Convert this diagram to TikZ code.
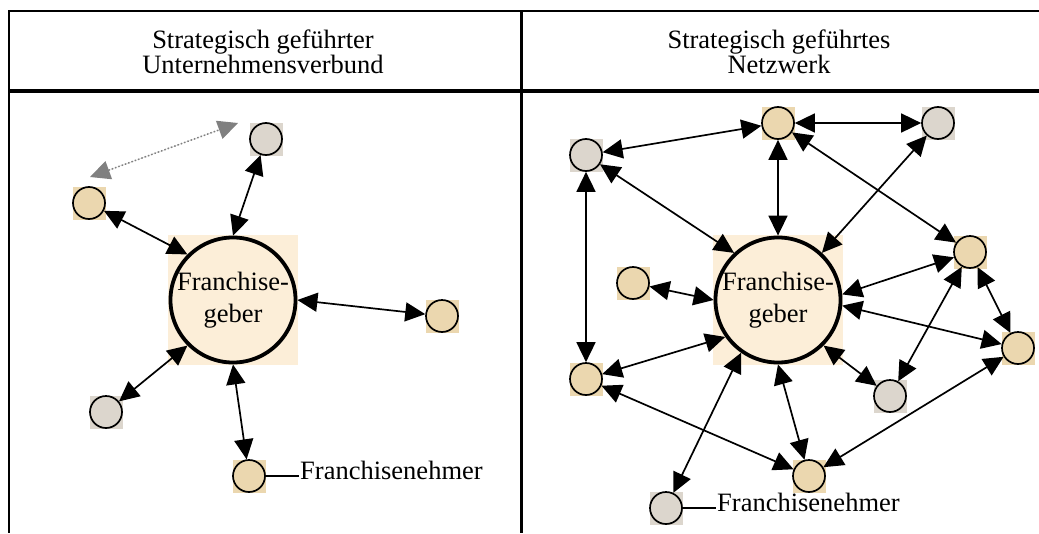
\documentclass[tikz,border=0pt]{standalone}
\usepackage{fontspec}
\setmainfont{Liberation Serif}
\usetikzlibrary{arrows.meta,backgrounds}
\definecolor{tanc}{HTML}{EBD7AF}
\definecolor{greyc}{HTML}{DCD6CD}
\definecolor{bigc}{HTML}{FCEED8}
\definecolor{dotc}{HTML}{808080}
\tikzset{
  tannode/.style={circle, draw, line width=1.7pt, fill=tanc, minimum size=32pt, inner sep=0pt},
  greynode/.style={circle, draw, line width=1.7pt, fill=greyc, minimum size=32pt, inner sep=0pt},
  bignode/.style={circle, draw, line width=3.8pt, fill=bigc, minimum size=124pt, inner sep=0pt, align=center, font=\fontsize{26.5}{32}\selectfont},
  headtip/.tip={Triangle[length=20pt,width=19pt]},
  bi/.style={headtip-headtip, line width=1.7pt},
  dotarrow/.style={headtip-headtip, line width=1.5pt, dotted, draw=dotc, fill=dotc},
  hdr/.style={anchor=base, inner sep=0pt, font=\fontsize{26.5}{25}\selectfont},
  lab/.style={anchor=base west, inner sep=1pt, font=\fontsize{26.5}{30}\selectfont},
}
\begin{document}
\begin{tikzpicture}[x=1pt,y=-1pt]
\useasboundingbox (0,0) rectangle (1039,533);
% frame
\draw[line width=1.5pt] (9,11) -- (1039,11);
\draw[line width=4pt] (9,91) -- (1039,91);
\draw[line width=2pt] (9,10.25) -- (9,533);
\draw[line width=3.5pt] (521.5,11) -- (521.5,533);
% headers
\node[hdr] (h1a) at (263,48) {Strategisch geführter};
\node[hdr] (h1b) at (263,73) {Unternehmensverbund};
\node[hdr] (h2a) at (779,48) {Strategisch geführtes};
\node[hdr] (h2b) at (779,73) {Netzwerk};
% left panel nodes
\node[bignode] (big1) at (233,300) {Franchise-\\geber};
\node[tannode] (A) at (89,203) {};
\node[greynode] (B) at (266,139) {};
\node[tannode] (C) at (442,316) {};
\node[greynode] (D) at (106,412) {};
\node[tannode] (E) at (249,476) {};
\node[lab] (lab1) at (299,479) {Franchisenehmer};
% right panel nodes
\node[bignode] (big2) at (778,300) {Franchise-\\geber};
\node[tannode] (R1) at (778,123) {};
\node[greynode] (R2) at (938,123) {};
\node[greynode] (R3) at (586,155) {};
\node[tannode] (R4) at (970,252) {};
\node[tannode] (R5) at (633,283) {};
\node[tannode] (R6) at (1018,348) {};
\node[tannode] (R7) at (586,379) {};
\node[greynode] (R8) at (890,396) {};
\node[tannode] (R9) at (809,476) {};
\node[greynode] (R10) at (666,508) {};
\node[lab] (lab2) at (716,511) {Franchisenehmer};
% background squares
\begin{scope}[on background layer]
  \foreach \n in {A,C,E,R1,R4,R5,R6,R7,R9} {
    \fill[tanc] ([shift={(-16.5pt,-16.5pt)}]\n.center) rectangle ([shift={(16.5pt,16.5pt)}]\n.center);
  }
  \foreach \n in {B,D,R2,R3,R8,R10} {
    \fill[greyc] ([shift={(-16.5pt,-16.5pt)}]\n.center) rectangle ([shift={(16.5pt,16.5pt)}]\n.center);
  }
  \foreach \n in {big1,big2} {
    \fill[bigc] ([shift={(-65pt,-65pt)}]\n.center) rectangle ([shift={(65pt,65pt)}]\n.center);
  }
\end{scope}
% left connectors
\draw[bi] (big1.135) -- (A);
\draw[bi] (big1.90) -- (B);
\draw[bi] (big1.0) -- (C);
\draw[bi] (big1.225) -- (D);
\draw[bi] (big1.270) -- (E);
\coordinate (d1) at (90,177);
\coordinate (d2) at (238,123);
\draw[dotarrow] (d1) -- (d2);
\draw[line width=1.5pt] (E) -- (E -| lab1.west);
% right connectors
\draw[bi] (R3) -- (R1);
\draw[bi] (R1) -- (R2);
\draw[bi] (big2.90) -- (R1);
\draw[bi] (big2.47) -- (R2);
\draw[bi] (R1) -- (R4);
\draw[bi] (big2.133) -- (R3);
\draw[bi] (R3) -- (R7);
\draw[bi] (big2.180) -- (R5);
\draw[bi] (big2.5) -- (R4);
\draw[bi] (big2.-5) -- (R6);
\draw[bi] (R4) -- (R6);
\draw[bi] (R4) -- (R8);
\draw[bi] (big2.-45) -- (R8);
\draw[bi] (big2.215) -- (R7);
\draw[bi] (big2.235) -- (R10);
\draw[bi] (big2.-90) -- (R9);
\draw[bi] (R7) -- (R9);
\draw[bi] (R9) -- (R6);
\draw[line width=1.5pt] (R10) -- (R10 -| lab2.west);
\end{tikzpicture}
\end{document}
